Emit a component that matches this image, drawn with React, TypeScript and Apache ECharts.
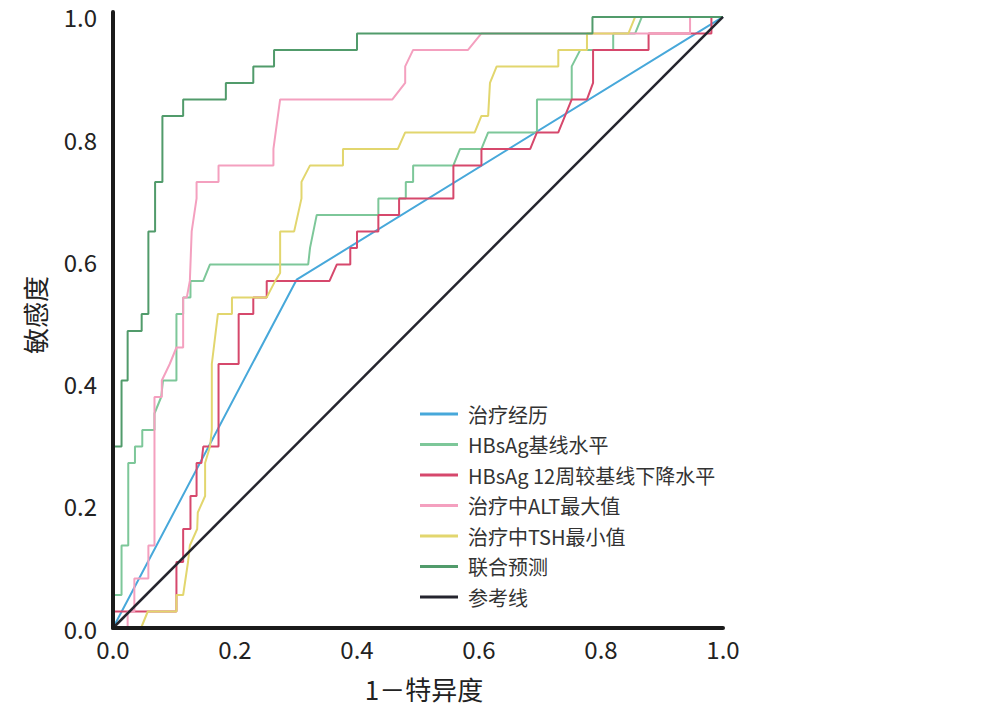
import React, { useEffect, useRef } from "react";
import * as echarts from "echarts";

// ROC curves: [1 - specificity, sensitivity]
const seriesNames = [
  "治疗经历",
  "HBsAg基线水平",
  "HBsAg 12周较基线下降水平",
  "治疗中ALT最大值",
  "治疗中TSH最小值",
  "联合预测",
  "参考线",
];

const treatmentHistory = [
  [0, 0], [0.301, 0.57], [1, 1],
];

const hbsagBaseline = [
  [0, 0], [0, 0.054], [0.014, 0.054], [0.014, 0.135], [0.025, 0.135], [0.025, 0.27],
  [0.036, 0.27], [0.036, 0.297], [0.048, 0.297], [0.048, 0.324], [0.068, 0.324],
  [0.068, 0.351], [0.079, 0.378], [0.082, 0.405], [0.104, 0.405], [0.104, 0.514],
  [0.115, 0.514], [0.115, 0.541], [0.127, 0.541], [0.127, 0.568], [0.148, 0.568],
  [0.159, 0.595], [0.32, 0.595], [0.323, 0.622], [0.334, 0.676], [0.435, 0.676],
  [0.435, 0.703], [0.48, 0.703], [0.48, 0.73], [0.492, 0.73], [0.492, 0.757],
  [0.558, 0.757], [0.569, 0.784], [0.604, 0.784], [0.615, 0.811], [0.695, 0.811],
  [0.695, 0.865], [0.752, 0.865], [0.752, 0.919], [0.766, 0.946], [0.82, 0.946],
  [0.82, 0.973], [0.856, 0.973], [0.867, 1], [1, 1],
];

const hbsagDecline = [
  [0, 0], [0, 0.027], [0.104, 0.027], [0.104, 0.108], [0.115, 0.108], [0.115, 0.162],
  [0.127, 0.162], [0.127, 0.216], [0.137, 0.216], [0.137, 0.27], [0.145, 0.27],
  [0.148, 0.297], [0.173, 0.297], [0.173, 0.432], [0.206, 0.432], [0.206, 0.514],
  [0.23, 0.514], [0.23, 0.541], [0.252, 0.541], [0.252, 0.568], [0.355, 0.568],
  [0.367, 0.595], [0.389, 0.595], [0.389, 0.622], [0.4, 0.622], [0.4, 0.649],
  [0.435, 0.649], [0.435, 0.676], [0.469, 0.676], [0.469, 0.703], [0.558, 0.703],
  [0.558, 0.757], [0.604, 0.757], [0.604, 0.784], [0.684, 0.784], [0.695, 0.811],
  [0.73, 0.811], [0.752, 0.865], [0.777, 0.865], [0.787, 0.892], [0.787, 0.946],
  [0.878, 0.946], [0.878, 0.973], [0.981, 0.973], [0.981, 1], [1, 1],
];

const altMax = [
  [0, 0], [0.024, 0], [0.024, 0.027], [0.035, 0.027], [0.035, 0.081], [0.058, 0.081],
  [0.058, 0.135], [0.068, 0.135], [0.068, 0.378], [0.08, 0.378], [0.08, 0.405],
  [0.093, 0.432], [0.104, 0.459], [0.115, 0.459], [0.115, 0.541], [0.121, 0.541],
  [0.126, 0.568], [0.129, 0.649], [0.137, 0.703], [0.137, 0.73], [0.173, 0.73],
  [0.173, 0.757], [0.263, 0.757], [0.263, 0.784], [0.274, 0.865], [0.458, 0.865],
  [0.479, 0.892], [0.479, 0.919], [0.492, 0.946], [0.582, 0.946], [0.604, 0.973],
  [0.946, 0.973], [0.946, 1], [1, 1],
];

const tshMin = [
  [0, 0], [0.046, 0], [0.057, 0.027], [0.104, 0.027], [0.104, 0.054], [0.115, 0.054],
  [0.123, 0.108], [0.126, 0.135], [0.138, 0.162], [0.139, 0.189], [0.151, 0.216],
  [0.151, 0.27], [0.159, 0.297], [0.162, 0.324], [0.162, 0.432], [0.172, 0.514],
  [0.195, 0.514], [0.195, 0.541], [0.252, 0.541], [0.266, 0.568], [0.274, 0.581],
  [0.274, 0.649], [0.297, 0.649], [0.309, 0.703], [0.309, 0.73], [0.323, 0.757],
  [0.377, 0.757], [0.377, 0.784], [0.467, 0.784], [0.479, 0.811], [0.593, 0.811],
  [0.604, 0.838], [0.615, 0.838], [0.618, 0.892], [0.629, 0.919], [0.73, 0.919],
  [0.73, 0.946], [0.777, 0.946], [0.777, 0.973], [0.845, 0.973], [0.856, 1], [1, 1],
];

const combined = [
  [0, 0], [0, 0.297], [0.014, 0.297], [0.014, 0.405], [0.024, 0.405], [0.024, 0.486],
  [0.047, 0.486], [0.047, 0.514], [0.058, 0.514], [0.058, 0.649], [0.069, 0.649],
  [0.069, 0.73], [0.081, 0.73], [0.081, 0.838], [0.115, 0.838], [0.115, 0.865],
  [0.185, 0.865], [0.185, 0.892], [0.23, 0.892], [0.23, 0.919], [0.264, 0.919],
  [0.264, 0.946], [0.4, 0.946], [0.4, 0.973], [0.786, 0.973], [0.786, 1], [1, 1],
];

const referenceLine = [
  [0, 0], [1, 1],
];

const tickLabels = ["0.0", "0.2", "0.4", "0.6", "0.8", "1.0"];

const seriesData = [treatmentHistory, hbsagBaseline, hbsagDecline, altMax, tshMin, combined, referenceLine];
const seriesColors = ["#47a8da", "#7dc799", "#d6486c", "#f4a0bf", "#e2d66e", "#519b6b", "#25252e"];

const FONT = "'Noto Sans CJK SC', 'Noto Sans', sans-serif";

function fmt(v: number) {
  const k = Math.round(v * 5);
  if (Math.abs(v * 5 - k) > 1e-6) return "";
  return tickLabels[k] ?? "";
}

export default function App() {
  const ref = useRef<HTMLDivElement>(null);
  useEffect(() => {
    if (!ref.current) return;
    const chart = echarts.init(ref.current, null, { renderer: "svg" });
    chart.setOption({
      animation: false,
      backgroundColor: "#ffffff",
      textStyle: { fontFamily: FONT },
      grid: { left: 113, top: 12, right: 258, bottom: 91, containLabel: false },
      legend: {
        orient: "vertical",
        left: 415,
        top: 397,
        icon: "rect",
        itemWidth: 38,
        itemHeight: 3,
        itemGap: 6.5,
        data: seriesNames,
        textStyle: { fontSize: 20, color: "#333", fontFamily: FONT, lineHeight: 24, padding: [0, 0, 0, 5] },
      },
      xAxis: {
        type: "value",
        min: 0,
        max: 1,
        interval: 0.2,
        z: 20,
        name: "1－特异度",
        nameLocation: "middle",
        nameGap: 47,
        nameTextStyle: { fontSize: 26, color: "#222", fontFamily: FONT, padding: [0, 0, 0, 12] },
        axisLine: { show: true, onZero: false, lineStyle: { color: "#1a1a1a", width: 4 } },
        axisTick: { show: false },
        splitLine: { show: false },
        axisLabel: { fontSize: 24, color: "#222", margin: 8, fontFamily: FONT, formatter: fmt },
      },
      yAxis: {
        type: "value",
        min: 0,
        max: 1.008,
        interval: 0.2,
        z: 20,
        name: "敏感度",
        nameLocation: "middle",
        nameGap: 66,
        nameTextStyle: { fontSize: 26, color: "#222", fontFamily: FONT, padding: [0, 0, 0, 10] },
        axisLine: { show: true, onZero: false, lineStyle: { color: "#1a1a1a", width: 4 } },
        axisTick: { show: false },
        splitLine: { show: false },
        axisLabel: { fontSize: 24, color: "#222", margin: 16, fontFamily: FONT, formatter: fmt },
      },
      series: seriesNames.map((name, i) => ({
        name,
        type: "line",
        data: seriesData[i],
        showSymbol: false,
        symbol: "none",
        color: seriesColors[i],
        lineStyle: { color: seriesColors[i], width: i === 6 ? 2.5 : 2 },
        z: 2 + i,
      })),
    });
    return () => chart.dispose();
  }, []);
  return <div ref={ref} style={{ position: "absolute", left: 0, top: 0, width: 981, height: 719 }} />;
}
